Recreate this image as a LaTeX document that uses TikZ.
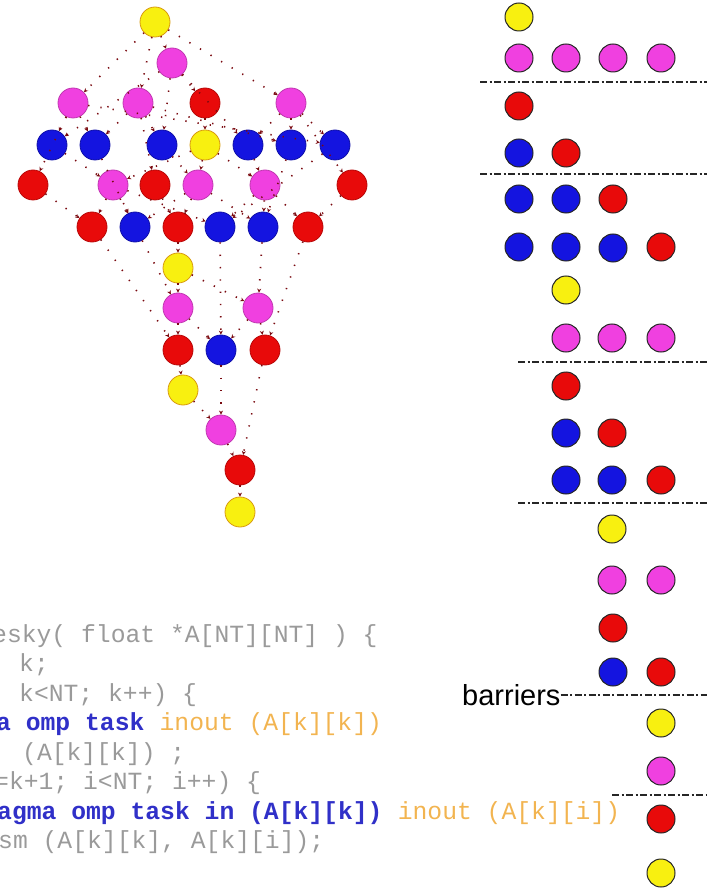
\documentclass[tikz,border=0pt]{standalone}
\usepackage{fontspec}
\setmainfont{Liberation Sans}
\setmonofont{Liberation Mono}
\usetikzlibrary{arrows.meta}
\definecolor{cyel}{HTML}{F8F010}
\definecolor{cyelD}{HTML}{D89A10}
\definecolor{cpink}{HTML}{F040E0}
\definecolor{cpinkD}{HTML}{C038B0}
\definecolor{cred}{HTML}{E80A0A}
\definecolor{credD}{HTML}{B80808}
\definecolor{cblue}{HTML}{1414E0}
\definecolor{cblueD}{HTML}{1010A8}
\definecolor{cedge}{HTML}{7A0A10}
\definecolor{ccode}{HTML}{9A9A9A}
\definecolor{ckw}{HTML}{3030C8}
\definecolor{cdep}{HTML}{F2B450}
\begin{document}
\begin{tikzpicture}[x=1pt,y=-1pt,
  dn/.style={circle,minimum size=30pt,inner sep=0pt,line width=0.8pt},
  dY/.style={dn,fill=cyel,draw=cyelD},
  dP/.style={dn,fill=cpink,draw=cpinkD},
  dR/.style={dn,fill=cred,draw=credD},
  dB/.style={dn,fill=cblue,draw=cblueD},
  rn/.style={circle,minimum size=28pt,inner sep=0pt,line width=1pt,draw=black!85},
  rY/.style={rn,fill=cyel},
  rP/.style={rn,fill=cpink},
  rR/.style={rn,fill=cred},
  rB/.style={rn,fill=cblue},
  dep/.style={draw=cedge,line width=1.6pt,dash pattern=on 1.3pt off 11pt,-{Stealth[length=4pt,width=4pt]}},
  bar/.style={draw=black!85,line width=1.8pt,dash pattern=on 7pt off 2.5pt on 2pt off 2.5pt},
  code/.style={anchor=base west,inner sep=0pt,font=\ttfamily\fontsize{24.7}{29}\selectfont,text=ccode},
  kw/.style={code,text=ckw,font=\ttfamily\bfseries\fontsize{24.7}{29}\selectfont},
]
\useasboundingbox (0,0) rectangle (707,890);

% ---------------- task graph ----------------
\node[dY] (y0)  at (155,22) {};
\node[dP] (t01) at (172,63) {};
\node[dP] (t03) at (73,103) {};
\node[dP] (t02) at (138,103) {};
\node[dR] (s01) at (205,103) {};
\node[dP] (t04) at (291,103) {};
\node[dB] (g13) at (52,145) {};
\node[dB] (g23) at (95,145) {};
\node[dB] (g12) at (162,145) {};
\node[dY] (y1)  at (205,145) {};
\node[dB] (g14) at (248,145) {};
\node[dB] (g24) at (291,145) {};
\node[dB] (g34) at (335,145) {};
\node[dR] (s03) at (33,185) {};
\node[dP] (t13) at (113,185) {};
\node[dR] (s02) at (155,185) {};
\node[dP] (t12) at (198,185) {};
\node[dP] (t14) at (265,185) {};
\node[dR] (s04) at (352,185) {};
\node[dR] (s13) at (92,227) {};
\node[dB] (h23) at (135,227) {};
\node[dR] (s12) at (178,227) {};
\node[dB] (h34) at (220,227) {};
\node[dB] (h24) at (263,227) {};
\node[dR] (s14) at (308,227) {};
\node[dY] (y2)  at (178,268) {};
\node[dP] (u3)  at (178,308) {};
\node[dP] (u4)  at (258,308) {};
\node[dR] (s23) at (178,350) {};
\node[dB] (k34) at (221,350) {};
\node[dR] (s24) at (265,350) {};
\node[dY] (y3)  at (183,390) {};
\node[dP] (v4)  at (221,430) {};
\node[dR] (s34) at (240,470) {};
\node[dY] (y4)  at (240,512) {};

\foreach \a/\b in {y0/t01,y0/t02,y0/t03,y0/t04,
  t01/s01,t01/g13,t01/g12,t01/g14,
  t03/s03,t03/g13,t03/g23,t03/g34,
  t02/s02,t02/g23,t02/g12,t02/g24,
  t04/s04,t04/g14,t04/g24,t04/g34,
  s01/y1,y1/t13,y1/t12,y1/t14,
  g13/t13,g12/t12,g14/t14,g23/h23,g24/h24,g34/h34,
  s03/s13,s02/s12,s04/s14,t13/s13,t12/s12,t14/s14,
  t12/h23,t13/h23,t12/h24,t14/h24,t13/h34,t14/h34,
  s12/y2,y2/u3,y2/u4,h23/u3,h24/u4,h34/k34,
  u3/s23,u3/k34,u4/k34,u4/s24,s13/s23,s14/s24,
  s23/y3,y3/v4,k34/v4,v4/s34,s24/s34,s34/y4}
  \draw[dep] (\a) -- (\b);

% ---------------- barrier schedule ----------------
\node[rY] (r01) at (519,17) {};
\node[rP] (r02) at (519,58) {};
\node[rP] (r03) at (566,58) {};
\node[rP] (r04) at (613,58) {};
\node[rP] (r05) at (661,58) {};
\node[rR] (r06) at (519,106) {};
\node[rB] (r07) at (519,153) {};
\node[rR] (r08) at (566,153) {};
\node[rB] (r09) at (519,199) {};
\node[rB] (r10) at (566,199) {};
\node[rR] (r11) at (613,199) {};
\node[rB] (r12) at (519,247) {};
\node[rB] (r13) at (566,247) {};
\node[rB] (r14) at (613,248) {};
\node[rR] (r15) at (661,247) {};
\node[rY] (r16) at (566,290) {};
\node[rP] (r17) at (566,338) {};
\node[rP] (r18) at (612,338) {};
\node[rP] (r19) at (661,338) {};
\node[rR] (r20) at (566,386) {};
\node[rB] (r21) at (566,433) {};
\node[rR] (r22) at (612,433) {};
\node[rB] (r23) at (566,480) {};
\node[rB] (r24) at (612,480) {};
\node[rR] (r25) at (661,480) {};
\node[rY] (r26) at (612,529) {};
\node[rP] (r27) at (612,580) {};
\node[rP] (r28) at (661,580) {};
\node[rR] (r29) at (613,628) {};
\node[rB] (r30) at (613,672) {};
\node[rR] (r31) at (661,672) {};
\node[rY] (r32) at (661,723) {};
\node[rP] (r33) at (661,771) {};
\node[rR] (r34) at (661,819) {};
\node[rY] (r35) at (661,873) {};

\draw[bar] (480,82) -- (707,82);
\draw[bar] (480,174) -- (707,174);
\draw[bar] (518,362) -- (707,362);
\draw[bar] (518,503) -- (707,503);
\node[anchor=base west,inner sep=0pt,font=\fontsize{29}{34}\selectfont] (barr) at (462,705) {barriers};
\draw[bar] (barr.east |- 0,695) -- (707,695);
\draw[bar] (612,795) -- (707,795);

% ---------------- code ----------------
\node[code] (c1) at (-8,642) {esky( float *A[NT][NT] ) \{};
\node[code] (c2) at (19,671.5) {k;};
\node[code] (c3) at (19,701) {k<NT; k++) \{};
\node[kw] (c4a) at (-4,730.5) {a omp task};
\node[code,text=cdep] (c4b) at (c4a.base east) {\ inout (A[k][k])};
\node[code] (c5) at (22,760) {(A[k][k]) ;};
\node[code] (c6) at (-6,789.5) {=k+1; i<NT; i++) \{};
\node[kw] (c7a) at (-3,819) {agma omp task in (A[k][k])};
\node[code,text=cdep] (c7b) at (c7a.base east) {\ inout (A[k][i])};
\node[code] (c8) at (-2,848.5) {sm (A[k][k], A[k][i]);};
\end{tikzpicture}
\end{document}
